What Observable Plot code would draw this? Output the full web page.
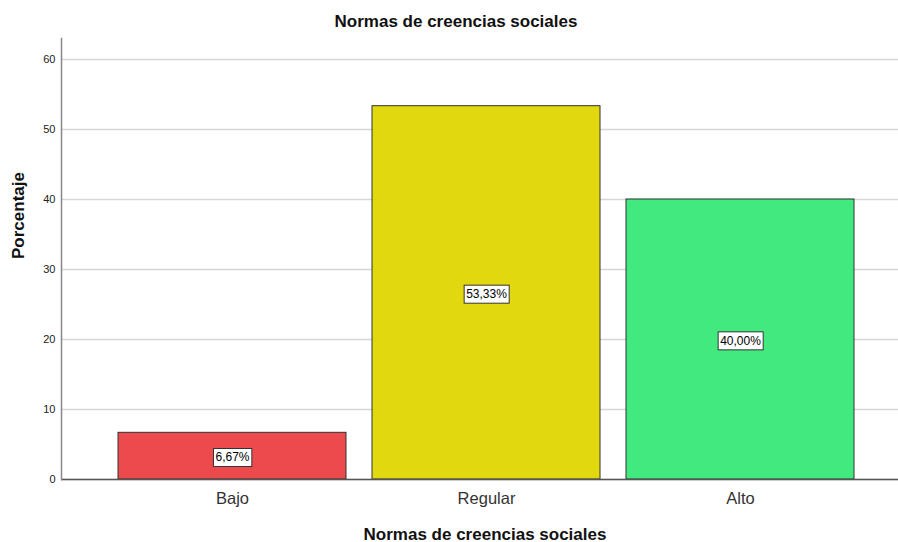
<!DOCTYPE html>
<html>
<head>
<meta charset="utf-8">
<script src="https://cdn.jsdelivr.net/npm/d3@7"></script>
<script src="https://cdn.jsdelivr.net/npm/@observablehq/plot@0.6"></script>
<style>
  html, body { margin: 0; padding: 0; background: #fff; }
  svg { font-family: "Liberation Sans", Arial, sans-serif; display: block; }
</style>
</head>
<body>
<div id="chart"></div>
<script>
const categories = ["Bajo", "Regular", "Alto"];
const percents = [6.67, 53.33, 40.00];
const valueLabels = ["6,67%", "53,33%", "40,00%"];
const barColors = ["#EC4A4C", "#E2D810", "#42E97F"];
const yTicks = [0, 10, 20, 30, 40, 50, 60];
const chartTitle = "Normas de creencias sociales";
const xTitle = "Normas de creencias sociales";
const yTitle = "Porcentaje";

const data = categories.map((c, i) => ({cat: c, pct: percents[i], label: valueLabels[i], color: barColors[i]}));

const chart = Plot.plot({
  width: 898,
  height: 542,
  marginLeft: 61,
  marginRight: 0,
  marginTop: 38,
  marginBottom: 63,
  style: {fontFamily: "Liberation Sans, Arial, sans-serif", background: "#fff"},
  x: {domain: categories, range: [117, 854], paddingInner: 0.104, paddingOuter: 0},
  y: {domain: [0, 63], ticks: yTicks},
  marks: [
    Plot.gridY(yTicks, {stroke: "#d6d6d6", strokeOpacity: 1, strokeWidth: 1.6}),
    Plot.barY(data, {x: "cat", y: "pct", fill: "color", stroke: "#333", strokeWidth: 1}),
    Plot.ruleY([0], {stroke: "#555", strokeWidth: 1.5}),
    Plot.frame({anchor: "left", stroke: "#888", strokeWidth: 1.5}),
    Plot.axisY(yTicks, {tickSize: 0, tickPadding: 6, fontSize: 11, fill: "#222", label: null}),
    Plot.axisX({tickSize: 0, tickPadding: 13, fontSize: 16.5, fill: "#333", label: null}),
    Plot.text(data, {x: "cat", y: d => d.pct / 2, dy: 1.5, text: "label", fontSize: 12, fill: "#000", className: "vlabel"}),
    Plot.text([chartTitle], {frameAnchor: "top", dx: -24, dy: -24, fontSize: 17, fontWeight: "bold", fill: "#111"}),
    Plot.text([xTitle], {frameAnchor: "bottom", dx: 5, dy: 60, fontSize: 17, fontWeight: "bold", fill: "#111"}),
    Plot.text([yTitle], {frameAnchor: "left", dx: -43, rotate: -90, fontSize: 17, fontWeight: "bold", fill: "#111"})
  ]
});
document.getElementById("chart").appendChild(chart);

// Draw white boxes behind value labels
d3.select(chart).selectAll("g.vlabel text").each(function() {
  const b = this.getBBox();
  const padX = 2, padY = 2;
  d3.select(this.parentNode).insert("rect", () => this)
    .attr("x", b.x - padX).attr("y", b.y - padY)
    .attr("width", b.width + 2 * padX).attr("height", b.height + 2 * padY)
    .attr("fill", "#fff").attr("stroke", "#333").attr("stroke-width", 1)
    .attr("transform", this.getAttribute("transform"));
});
</script>
</body>
</html>
